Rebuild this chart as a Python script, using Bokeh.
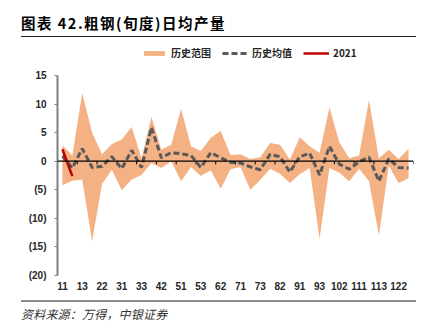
from bokeh.plotting import figure
from bokeh.layouts import column
from bokeh.models import (Range1d, FixedTicker, Span, Div, Legend, LegendItem)
from bokeh.embed import file_html
from bokeh.resources import INLINE

# ---------------- data ----------------
categories = ["11", "12", "13", "21", "22", "23", "31", "32", "33", "41", "42", "43",
              "51", "52", "53", "61", "62", "63", "71", "72", "73", "81", "82", "83",
              "91", "92", "93", "101", "102", "103", "111", "112", "113", "121", "122", "123"]

hist_upper = [2.8, 1.0, 11.9, 5.0, 1.2, 3.0, 3.8, 6.0, 0.5, 7.8, 2.0, 2.9,
              9.2, 2.6, 1.8, 4.1, 5.3, 1.1, 1.2, 0.4, 0.7, 3.2, 2.9, 0.3,
              4.2, 2.6, 1.5, 9.4, 3.3, 0.5, 1.0, 10.7, 0.5, 2.0, 0.4, 2.2]

hist_lower = [-4.2, -3.4, -3.2, -14.0, -4.0, -1.5, -5.1, -3.2, -2.4, -0.3, -1.2, 0.0,
              -3.5, -1.0, -2.6, -1.6, -4.8, -1.4, -1.0, -5.0, -3.3, -1.3, -2.2, -3.8,
              -2.3, -1.2, -13.6, -1.2, -2.0, -3.5, -1.3, -3.5, -13.0, -0.8, -3.8, -3.0]

hist_mean = [0.9, -1.2, 2.2, -1.1, -0.9, 0.8, -1.3, 1.9, -1.1, 5.9, 0.6, 1.5,
             1.3, 1.0, -1.1, 1.5, 0.6, -0.2, -0.3, -1.0, -1.5, 1.2, 0.8, -1.9,
             0.8, 1.4, -2.4, 2.6, -0.5, -1.4, -0.1, 0.7, -3.5, 0.4, -1.1, -1.2]

y2021 = [2.1, -2.6]

y_ticks = [-20, -15, -10, -5, 0, 5, 10, 15]
y_tick_labels = ["(20)", "(15)", "(10)", "(5)", "0", "5", "10", "15"]

title_text = "图表 42.粗钢(旬度)日均产量"
source_text = "资料来源：万得，中银证券"
legend_labels = ["历史范围", "历史均值", "2021"]

# ---------------- layout sizes ----------------
W = 428
TITLE_H = 40        # title block (canvas y 0..40)
FIG_H = 260         # figure (canvas y 40..300)
SRC_H = 28          # source block (canvas y 300..328)
FL, FR = 57, 15     # frame left / right borders
FB_BORDER = 25      # below frame inside the figure (frame bottom at canvas 275)
PX_PER_UNIT = 200 / 35.0
frame_h = FIG_H - FB_BORDER
y_top = -20 + frame_h / PX_PER_UNIT
xs = list(range(len(categories)))

p = figure(width=W, height=FIG_H, output_backend="svg", toolbar_location=None,
           x_range=Range1d(-0.5, len(categories) - 0.5), y_range=Range1d(-20, y_top),
           min_border_left=FL, min_border_right=FR, min_border_top=0,
           min_border_bottom=FB_BORDER)
p.outline_line_color = None
p.xgrid.grid_line_color = None
p.ygrid.grid_line_color = None
p.background_fill_color = "white"
p.border_fill_color = "white"

band = p.varea(x=xs, y1=hist_lower, y2=hist_upper, fill_color="#F4B183", fill_alpha=1.0)

zero = Span(location=0, dimension="width", line_color="#000000", line_width=1.2)
p.add_layout(zero)
tick_x = [i + 0.5 for i in range(1, len(categories), 2)]
p.segment(x0=tick_x, y0=[0] * len(tick_x), x1=tick_x, y1=[-0.55] * len(tick_x),
          line_color="#000000", line_width=1)

mean_r = p.line(x=xs, y=hist_mean, line_color="#595959", line_width=3, line_dash="6 3")
red_r = p.line(x=xs[:len(y2021)], y=y2021, line_color="#C00000", line_width=2.5)

# y axis
p.yaxis.ticker = FixedTicker(ticks=y_ticks)
p.yaxis.bounds = (-20, 15)
p.yaxis.major_label_overrides = {t: l for t, l in zip(y_ticks, y_tick_labels)}
p.yaxis.axis_line_color = "#7f7f7f"
p.yaxis.axis_line_width = 2
p.yaxis.major_tick_line_color = "#7f7f7f"
p.yaxis.major_tick_in = 0
p.yaxis.major_tick_out = 3
p.yaxis.minor_tick_line_color = None
p.yaxis.major_label_text_font = "Liberation Sans"
p.yaxis.major_label_text_font_size = "10px"
p.yaxis.major_label_text_font_style = "bold"
p.yaxis.major_label_text_color = "#262626"
p.yaxis.major_label_standoff = 8

# x axis
p.xaxis.ticker = FixedTicker(ticks=xs[::2])
p.xaxis.major_label_overrides = {i: categories[i] for i in xs[::2]}
p.xaxis.axis_line_color = None
p.xaxis.major_tick_line_color = None
p.xaxis.major_tick_in = 0
p.xaxis.major_tick_out = 0
p.xaxis.minor_tick_line_color = None
p.xaxis.major_label_text_font = "Liberation Sans"
p.xaxis.major_label_text_font_size = "10px"
p.xaxis.major_label_text_font_style = "bold"
p.xaxis.major_label_text_color = "#262626"
p.xaxis.major_label_standoff = 6

# legend inside the (extended) frame, above the y-axis bounds
legend = Legend(items=[LegendItem(label=legend_labels[0], renderers=[band]),
                       LegendItem(label=legend_labels[1], renderers=[mean_r]),
                       LegendItem(label=legend_labels[2], renderers=[red_r])],
                orientation="horizontal", location=(84, 215),
                label_text_font="Noto Sans CJK SC", label_text_font_size="10px",
                label_text_font_style="bold", label_text_color="#262626",
                glyph_width=26, glyph_height=6, label_height=10, label_standoff=4, spacing=11,
                padding=0, margin=0, border_line_color=None, background_fill_alpha=0)
p.add_layout(legend)

title_div = Div(
    text=('<div style="margin-left:21px;width:395px;height:37px;box-sizing:border-box;'
          'padding-top:14px;border-bottom:1px solid #222222;font-family:\'Noto Sans CJK SC\';'
          'font-size:14.5px;font-weight:bold;line-height:17px;color:#000000;'
          'letter-spacing:1.5px;white-space:nowrap;">' + title_text + '</div>'),
    width=W, height=TITLE_H, margin=0)

source_div = Div(
    text=('<div style="margin-left:21px;width:395px;height:28px;box-sizing:border-box;'
          'border-top:2px solid #8c8c8c;padding-top:4px;font-family:\'Noto Sans CJK SC\';'
          'font-size:12px;font-style:italic;line-height:16px;color:#333333;'
          'letter-spacing:0.2px;white-space:nowrap;">' + source_text + '</div>'),
    width=W, height=SRC_H, margin=0)

layout = column(title_div, p, source_div, spacing=0, margin=0)

open("out.html", "w").write(file_html(layout, INLINE))
